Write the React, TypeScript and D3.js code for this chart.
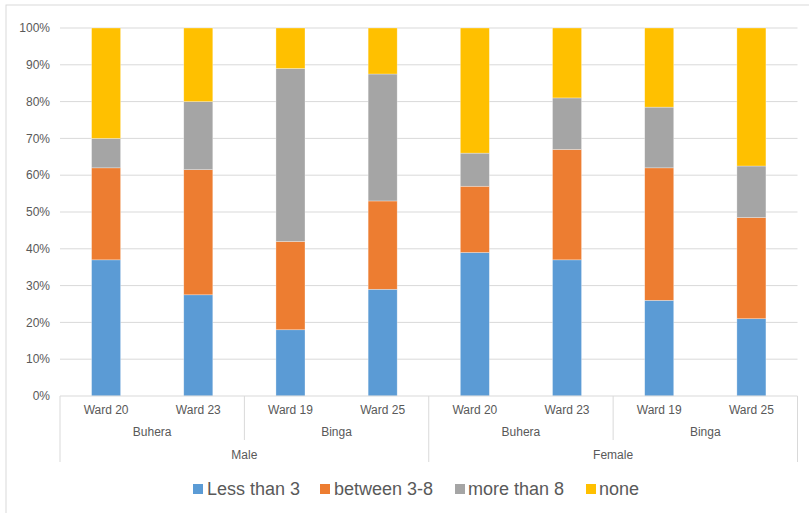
import React from "react";
import * as d3 from "d3";

const wards = ["Ward 20", "Ward 23", "Ward 19", "Ward 25", "Ward 20", "Ward 23", "Ward 19", "Ward 25"];
const districts = ["Buhera", "Binga", "Buhera", "Binga"];
const genders = ["Male", "Female"];
const seriesNames = ["Less than 3", "between 3-8", "more than 8", "none"];
const colors = ["#5B9BD5", "#ED7D31", "#A5A5A5", "#FFC000"];

const lessThan3 = [37, 27.5, 18, 29, 39, 37, 26, 21];
const between3to8 = [25, 34, 24, 24, 18, 30, 36, 27.5];
const moreThan8 = [8, 18.5, 47, 34.5, 9, 14, 16.5, 14];
const none = [30, 20, 11, 12.5, 34, 19, 21.5, 37.5];

const yTicks = [0, 10, 20, 30, 40, 50, 60, 70, 80, 90, 100];

const W = 809;
const H = 513;
const left = 60;
const right = 797.5;
const top = 28;
const bottom = 396;
const font = "'Liberation Sans', Arial, sans-serif";
const textColor = "#595959";
const gridColor = "#D9D9D9";

export default function App() {
  const idx = wards.map((_, i) => i);
  const x = d3.scaleBand<number>().domain(idx).range([left, right]).paddingInner(0.685).paddingOuter(0.3425);
  const y = d3.scaleLinear().domain([0, 100]).range([bottom, top]);
  const step = x.step();
  const series = [lessThan3, between3to8, moreThan8, none];
  const table = idx.map((i) => ({ i, s0: series[0][i], s1: series[1][i], s2: series[2][i], s3: series[3][i] }));
  const stacked = d3.stack<any>().keys(["s0", "s1", "s2", "s3"])(table);

  const legendItems = [
    { sq: 193, tx: 207 },
    { sq: 320, tx: 334 },
    { sq: 455, tx: 468 },
    { sq: 586, tx: 599 },
  ];

  return (
    <svg width={W} height={H} style={{ position: "absolute", left: 0, top: 0, background: "#fff" }}>
      <rect x={6} y={5} width={W + 10} height={H + 10} fill="#fff" stroke={gridColor} strokeWidth={1} />
      {yTicks.map((t) => (
        <g key={t}>
          {t > 0 && <line x1={left} x2={right} y1={y(t)} y2={y(t)} stroke={gridColor} strokeWidth={1} />}
          <text x={50} y={y(t)} dy="0.35em" textAnchor="end" fontFamily={font} fontSize={12} fill={textColor}>
            {t}%
          </text>
        </g>
      ))}
      {stacked.map((layer, si) => (
        <g key={si} fill={colors[si]}>
          {layer.map((d, i) => (
            <rect
              key={i}
              x={x(i)}
              y={y(d[1])}
              width={x.bandwidth()}
              height={y(d[0]) - y(d[1])}
              stroke="#ffffff"
              strokeOpacity={0.5}
              strokeWidth={0.6}
            />
          ))}
        </g>
      ))}
      <line x1={left} x2={right} y1={bottom} y2={bottom} stroke={gridColor} strokeWidth={1} />
      {[0, 2, 4, 6, 8].map((k) => {
        const xx = left + k * step;
        const long = k % 4 === 0;
        return <line key={k} x1={xx} x2={xx} y1={bottom} y2={long ? 462 : 440} stroke={gridColor} strokeWidth={1} />;
      })}
      {wards.map((w, i) => (
        <text key={i} x={(x(i) as number) + x.bandwidth() / 2} y={410} dy="0.35em" textAnchor="middle" fontFamily={font} fontSize={12} fill={textColor}>
          {w}
        </text>
      ))}
      {districts.map((d, k) => (
        <text key={k} x={left + (k * 2 + 1) * step} y={432} dy="0.35em" textAnchor="middle" fontFamily={font} fontSize={12} fill={textColor}>
          {d}
        </text>
      ))}
      {genders.map((g, k) => (
        <text key={k} x={left + (k * 4 + 2) * step} y={455} dy="0.35em" textAnchor="middle" fontFamily={font} fontSize={12} fill={textColor}>
          {g}
        </text>
      ))}
      {seriesNames.map((n, k) => (
        <g key={k}>
          <rect x={legendItems[k].sq} y={484} width={10} height={10} fill={colors[k]} />
          <text x={legendItems[k].tx} y={489} dy="0.35em" fontFamily={font} fontSize={18} fill={textColor}>
            {n}
          </text>
        </g>
      ))}
    </svg>
  );
}
